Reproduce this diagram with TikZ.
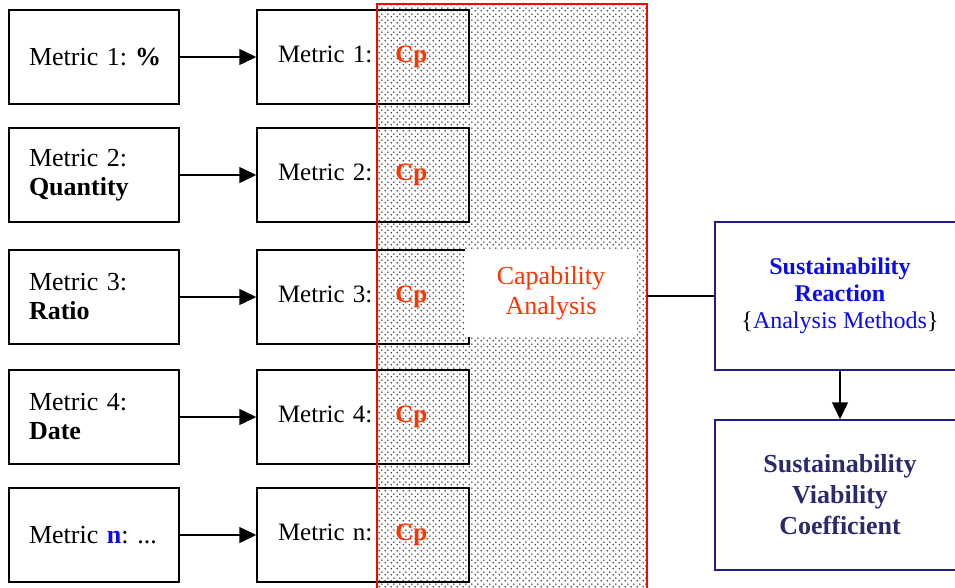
\documentclass[tikz,border=0pt]{standalone}
\usepackage{fontspec}
\setmainfont{Liberation Serif}
\usetikzlibrary{arrows.meta,patterns}
\frenchspacing
\definecolor{cpred}{HTML}{FF3300}
\definecolor{rblue}{HTML}{0A0AF5}
\definecolor{navyline}{HTML}{1E1E86}
\definecolor{navytext}{HTML}{2B2B6B}
\pgfdeclarepatternformonly{mydots}{\pgfpointorigin}{\pgfqpoint{6pt}{6pt}}{\pgfqpoint{6pt}{6pt}}{%
  \pgfpathcircle{\pgfqpoint{1.5pt}{1.5pt}}{1pt}%
  \pgfpathcircle{\pgfqpoint{4.5pt}{4.5pt}}{1pt}%
  \pgfusepath{fill}}
\tikzset{
  lbox/.style={draw=black, line width=1.5pt, minimum height=94pt, text width=150pt,
    inner xsep=10pt, inner ysep=0pt, align=left,
    font=\fontsize{26}{29}\selectfont\frenchspacing},
  mbox/.style={draw=black, line width=1.5pt, minimum height=94pt, text width=170pt,
    inner xsep=21pt, inner ysep=0pt, align=left,
    font=\fontsize{25}{29}\selectfont\frenchspacing},
  arr/.style={line width=1.5pt, -{Triangle[length=17pt,width=16pt]}},
  rbox/.style={draw=navyline, line width=1.5pt, minimum width=250pt, inner sep=0pt, align=center},
}
\newcommand{\Cpt}{\textcolor{cpred}{\bfseries Cp}}
\newcommand{\ind}{\hspace*{10pt}}
\begin{document}
\begin{tikzpicture}[x=1pt,y=-1pt]
\useasboundingbox (0,0) rectangle (955,587);
\clip (0,0) rectangle (955,587);
% shaded capability region
\node[draw=none, pattern=mydots, pattern color=black!75, minimum width=270pt, minimum height=588pt, inner sep=0pt] (capreg) at (512,298) {};
% left boxes
\node[lbox] (l1) at (94,57) {\ind Metric 1:\hspace{8pt}\textbf{\%}};
\node[lbox] (l2) at (94,175) {\ind Metric 2:\\\ind\textbf{Quantity}};
\node[lbox] (l3) at (94,297) {\ind Metric 3:\\\ind\textbf{Ratio}};
\node[lbox] (l4) at (94,417) {\ind Metric 4:\\\ind\textbf{Date}};
\node[lbox] (l5) at (94,535) {\ind Metric \textcolor{rblue}{\bfseries n}: ...};
% middle boxes
\node[mbox] (m1) at (363,57) {Metric 1:\hspace{23pt}\Cpt};
\node[mbox] (m2) at (363,175) {Metric 2:\hspace{23pt}\Cpt};
\node[mbox] (m3) at (363,297) {Metric 3:\hspace{23pt}\Cpt};
\node[mbox] (m4) at (363,417) {Metric 4:\hspace{23pt}\Cpt};
\node[mbox] (m5) at (363,535) {Metric n:\hspace{23pt}\Cpt};
% arrows
\foreach \i in {1,...,5}{\draw[arr] (l\i) -- (m\i);}
% red border
\draw[red, line width=1.5pt] (capreg.south west) -- (capreg.north west) -- (capreg.north east) -- (capreg.south east);
% capability label
\node[fill=white, minimum width=172pt, minimum height=88pt, inner sep=0pt, align=center,
  text=cpred, font=\fontsize{26}{30}\selectfont] (cap) at (551,293) {Capability\\Analysis};
% right boxes
\node[rbox, minimum height=148pt, font=\fontsize{24}{27}\selectfont] (rb) at (840,296)
  {\textcolor{rblue}{\bfseries Sustainability}\\\textcolor{rblue}{\bfseries Reaction}\\\{\textcolor{rblue}{Analysis Methods}\}};
\node[rbox, minimum height=150pt, font=\fontsize{26}{31}\selectfont, text=navytext] (lb) at (840,495)
  {\bfseries Sustainability\\\bfseries Viability\\\bfseries Coefficient};
\draw[line width=1.5pt] (rb.west) -- (rb.west -| capreg.east);
\draw[arr] (rb) -- (lb);
\end{tikzpicture}
\end{document}
